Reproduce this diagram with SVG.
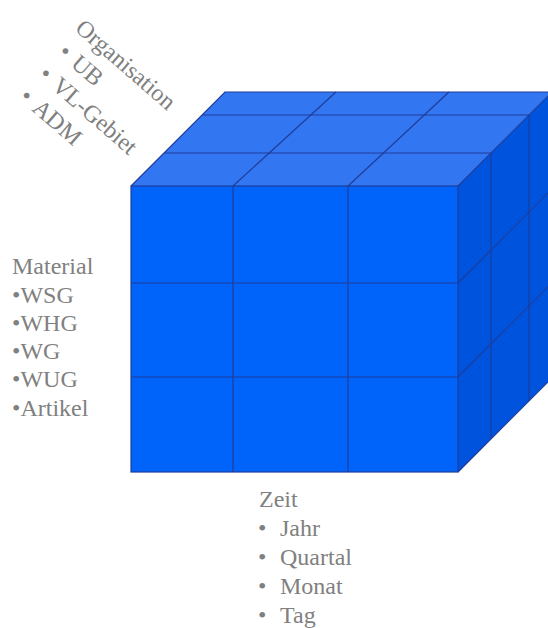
<svg xmlns="http://www.w3.org/2000/svg" width="548" height="628" viewBox="0 0 548 628">
<style>
.grid{stroke:#1f3d99;stroke-width:1.2;fill:none}
</style>
<rect width="548" height="628" fill="#ffffff"/>
<g id="cube">
  <polygon id="top-face" points="131,186 225,92 552,92 458,186" fill="#3276f2"/>
  <polygon id="right-face" points="458,186 552,92 552,378 458,472" fill="#0053dc"/>
  <rect id="front-face" x="131" y="186" width="327" height="286" fill="#0064fb"/>
</g>
<g id="connectors" class="grid">
  <line x1="233" y1="186" x2="233" y2="472"/>
  <line x1="348" y1="186" x2="348" y2="472"/>
  <line x1="131" y1="283" x2="458" y2="283"/>
  <line x1="131" y1="377" x2="458" y2="377"/>
  <line x1="164" y1="153" x2="491" y2="153"/>
  <line x1="202" y1="115" x2="529" y2="115"/>
  <line x1="233" y1="186" x2="336" y2="92"/>
  <line x1="348" y1="186" x2="449" y2="92"/>
  <line x1="491" y1="153" x2="491" y2="439"/>
  <line x1="529" y1="115" x2="529" y2="401"/>
  <line x1="458" y1="283" x2="552" y2="189"/>
  <line x1="458" y1="377" x2="552" y2="283"/>
  <polyline points="131,186 225,92 552,92"/>
  <line x1="458" y1="186" x2="552" y2="92"/>
  <line x1="458" y1="472" x2="552" y2="378"/>
  <rect x="131" y="186" width="327" height="286"/>
</g>
<g font-family="'Liberation Serif', 'Times New Roman', Times, 'DejaVu Serif', 'Noto Serif', serif" font-size="24" fill="#808080">
<g id="organisation" transform="translate(74,30) rotate(41)">
  <text x="0" y="0">Organisation</text>
  <text x="3" y="29.5">•</text><text x="20" y="29.5">UB</text>
  <text x="3" y="59">•</text><text x="20" y="59">VL-Gebiet</text>
  <text x="3" y="88.5">•</text><text x="20" y="88.5">ADM</text>
</g>
<g id="material">
  <text x="12" y="274">Material</text>
  <text x="12" y="303">•WSG</text>
  <text x="12" y="331">•WHG</text>
  <text x="12" y="359">•WG</text>
  <text x="12" y="387">•WUG</text>
  <text x="12" y="416">•Artikel</text>
</g>
<g id="zeit">
  <text x="259" y="507">Zeit</text>
  <text x="258" y="536">•</text><text x="280" y="536">Jahr</text>
  <text x="258" y="565">•</text><text x="280" y="565">Quartal</text>
  <text x="258" y="594">•</text><text x="280" y="594">Monat</text>
  <text x="258" y="623">•</text><text x="280" y="623">Tag</text>
</g>
</g>
</svg>
